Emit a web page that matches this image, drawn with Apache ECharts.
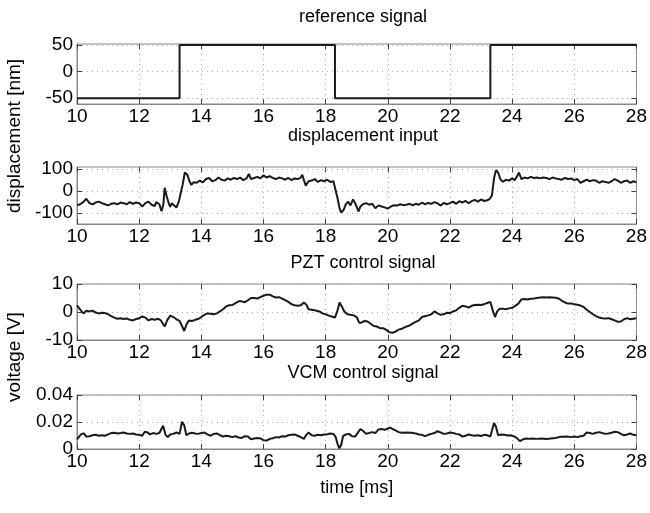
<!DOCTYPE html>
<html>
<head>
<meta charset="utf-8">
<script src="https://cdn.jsdelivr.net/npm/echarts@6/dist/echarts.min.js"></script>
<style>html,body{margin:0;padding:0;background:#fff}#chart{width:650px;height:513px}</style>
</head>
<body>
<div id="chart"></div>
<script>
// panel titles and axis ticks
var panelTitles = ['reference signal', 'displacement input', 'PZT control signal', 'VCM control signal'];
var yTickValues = [[-50, 0, 50], [-100, 0, 100], [-10, 0, 10], [0, 0.02, 0.04]];
var yRanges = [[-61, 52], [-150, 110], [-10, 10], [0, 0.04]];

// reference signal [ms, nm]
var refSignal = [[10, -50], [13.3, -50], [13.3, 50], [18.3, 50], [18.3, -50], [23.3, -50], [23.3, 50], [28, 50]];

// displacement input [ms, nm]
var dispInput = [[10.0,-65],[10.1,-60],[10.2,-50],[10.3,-35],[10.4,-55],[10.5,-60],[10.6,-52],[10.7,-48],[10.8,-55],[10.9,-60],[11.0,-65],[11.1,-58],[11.2,-55],[11.3,-60],[11.4,-52],[11.5,-55],[11.6,-60],[11.7,-50],[11.8,-58],[11.9,-52],[12.0,-55],[12.1,-70],[12.2,-55],[12.3,-48],[12.4,-62],[12.5,-68],[12.55,-50],[12.65,-60],[12.72,-92],[12.78,-60],[12.82,15],[12.88,-20],[12.95,-55],[13.0,-72],[13.05,-55],[13.12,-65],[13.2,-75],[13.28,-45],[13.33,-40],[13.4,30],[13.47,85],[13.55,75],[13.62,45],[13.68,28],[13.75,40],[13.85,38],[13.95,48],[14.05,40],[14.15,55],[14.25,60],[14.35,45],[14.45,50],[14.55,62],[14.65,52],[14.75,48],[14.85,58],[14.95,52],[15.05,60],[15.15,55],[15.25,62],[15.35,50],[15.45,58],[15.53,78],[15.6,55],[15.7,60],[15.8,65],[15.9,58],[16.0,72],[16.1,62],[16.2,68],[16.3,60],[16.4,55],[16.5,62],[16.6,58],[16.7,52],[16.8,60],[16.9,50],[17.0,58],[17.1,55],[17.2,62],[17.25,75],[17.3,50],[17.36,25],[17.45,45],[17.55,48],[17.65,55],[17.75,42],[17.85,50],[17.95,45],[18.05,52],[18.15,42],[18.25,45],[18.3,40],[18.38,-30],[18.45,-80],[18.5,-98],[18.58,-85],[18.65,-60],[18.72,-48],[18.8,-65],[18.88,-38],[18.95,-55],[19.0,-60],[19.06,-93],[19.12,-70],[19.2,-60],[19.3,-55],[19.4,-62],[19.5,-58],[19.6,-78],[19.7,-65],[19.8,-70],[19.9,-74],[20.0,-80],[20.1,-70],[20.2,-64],[20.3,-66],[20.4,-60],[20.5,-64],[20.6,-62],[20.7,-58],[20.8,-65],[20.9,-58],[21.0,-62],[21.1,-52],[21.2,-60],[21.3,-54],[21.4,-58],[21.5,-50],[21.6,-56],[21.7,-66],[21.8,-54],[21.9,-60],[22.0,-55],[22.1,-48],[22.2,-58],[22.3,-46],[22.4,-52],[22.5,-44],[22.6,-55],[22.7,-46],[22.8,-40],[22.9,-48],[23.0,-38],[23.1,-45],[23.2,-42],[23.28,-35],[23.35,-20],[23.42,60],[23.48,95],[23.55,85],[23.62,55],[23.7,42],[23.8,52],[23.9,48],[24.0,58],[24.08,50],[24.15,65],[24.22,85],[24.3,55],[24.4,62],[24.5,58],[24.6,65],[24.7,60],[24.8,62],[24.9,58],[25.0,62],[25.1,60],[25.2,55],[25.3,62],[25.4,58],[25.5,55],[25.6,52],[25.7,60],[25.8,55],[25.9,58],[26.0,50],[26.1,55],[26.2,38],[26.3,45],[26.4,52],[26.5,45],[26.6,50],[26.7,48],[26.8,38],[26.9,45],[27.0,42],[27.1,38],[27.2,45],[27.3,55],[27.4,48],[27.5,38],[27.6,45],[27.7,48],[27.8,38],[27.9,45],[28.0,40]];

// PZT control signal [ms, V]
var pztSignal = [[10.0,2.4],[10.08,1.2],[10.15,0.2],[10.22,-0.5],[10.3,0.5],[10.4,0.2],[10.5,0.5],[10.6,-0.2],[10.7,-0.5],[10.8,-0.3],[10.9,-0.4],[11.0,-0.8],[11.1,-1.5],[11.2,-2.0],[11.3,-2.4],[11.4,-2.2],[11.5,-2.5],[11.6,-2.3],[11.7,-2.8],[11.8,-3.0],[11.9,-2.5],[12.0,-2.2],[12.1,-1.6],[12.2,-2.0],[12.3,-3.0],[12.4,-2.5],[12.5,-2.8],[12.6,-2.4],[12.7,-3.0],[12.82,-5.2],[12.9,-3.0],[13.0,-1.3],[13.1,-1.8],[13.2,-2.6],[13.3,-3.2],[13.38,-5.0],[13.45,-6.8],[13.52,-4.5],[13.6,-3.0],[13.7,-3.2],[13.8,-2.8],[13.9,-2.5],[14.0,-1.8],[14.1,-1.0],[14.2,-0.5],[14.3,-0.6],[14.4,-0.8],[14.5,-0.5],[14.6,0.2],[14.7,1.0],[14.8,2.0],[14.9,2.4],[15.0,2.5],[15.1,3.2],[15.2,3.8],[15.3,3.8],[15.4,3.5],[15.5,4.2],[15.6,5.0],[15.7,5.0],[15.8,4.8],[15.9,5.3],[16.0,5.8],[16.1,6.2],[16.2,6.2],[16.3,5.6],[16.4,5.2],[16.5,5.3],[16.6,4.8],[16.7,4.2],[16.8,3.6],[16.9,2.8],[17.0,2.4],[17.1,2.2],[17.2,2.4],[17.3,3.4],[17.38,2.6],[17.45,1.0],[17.55,0.8],[17.65,0.6],[17.8,0.2],[17.9,-0.5],[18.0,-0.8],[18.1,-1.3],[18.2,-1.6],[18.3,-2.0],[18.38,0.5],[18.45,3.4],[18.52,2.0],[18.6,0.2],[18.7,-0.8],[18.8,-1.0],[18.9,-1.2],[19.0,-1.8],[19.08,-3.8],[19.15,-3.8],[19.25,-3.2],[19.35,-3.4],[19.45,-4.2],[19.55,-5.0],[19.65,-5.2],[19.75,-5.8],[19.85,-5.8],[19.95,-6.4],[20.05,-7.2],[20.15,-7.4],[20.25,-7.0],[20.35,-6.3],[20.45,-6.0],[20.55,-5.4],[20.7,-4.8],[20.85,-3.8],[21.0,-3.0],[21.1,-1.8],[21.2,-1.5],[21.3,-1.2],[21.4,-0.8],[21.5,0.2],[21.6,-0.5],[21.7,-1.0],[21.8,-0.8],[21.9,-0.3],[22.0,-0.4],[22.1,0.2],[22.2,0.6],[22.3,1.5],[22.4,2.2],[22.5,2.0],[22.6,1.6],[22.7,2.2],[22.8,2.5],[22.9,2.6],[23.0,2.5],[23.1,2.8],[23.2,3.2],[23.3,3.6],[23.38,0.5],[23.45,-1.8],[23.52,0.2],[23.6,1.2],[23.7,1.2],[23.8,1.0],[23.9,1.3],[24.0,1.5],[24.1,2.2],[24.2,3.0],[24.3,4.5],[24.4,4.6],[24.5,4.5],[24.6,4.7],[24.7,4.8],[24.8,5.0],[24.9,5.2],[25.0,5.3],[25.1,5.2],[25.2,5.3],[25.3,5.2],[25.4,5.1],[25.5,4.8],[25.6,4.0],[25.7,3.4],[25.8,3.0],[25.9,3.0],[26.0,2.8],[26.1,2.6],[26.2,2.3],[26.3,1.8],[26.4,0.8],[26.5,0.0],[26.6,-0.8],[26.7,-1.5],[26.8,-2.0],[26.9,-2.2],[27.0,-2.3],[27.1,-2.2],[27.2,-2.6],[27.3,-3.0],[27.4,-3.5],[27.5,-3.4],[27.6,-2.6],[27.7,-2.2],[27.8,-2.6],[27.9,-2.4],[28.0,-2.2]];

// VCM control signal [ms, V]
var vcmSignal = [[10.0,0.0072],[10.08,0.0095],[10.15,0.0112],[10.22,0.0115],[10.3,0.0092],[10.4,0.0095],[10.5,0.0102],[10.6,0.0105],[10.7,0.0098],[10.8,0.0102],[10.9,0.0098],[11.0,0.0108],[11.1,0.0118],[11.2,0.012],[11.3,0.0115],[11.4,0.0118],[11.5,0.0122],[11.6,0.0115],[11.7,0.0112],[11.8,0.0115],[11.9,0.0108],[12.0,0.0105],[12.1,0.0098],[12.18,0.0128],[12.25,0.0125],[12.35,0.0108],[12.45,0.0118],[12.55,0.0112],[12.65,0.0118],[12.77,0.0172],[12.85,0.0105],[12.92,0.0088],[13.0,0.0108],[13.1,0.0112],[13.2,0.0122],[13.3,0.0112],[13.38,0.0202],[13.45,0.0175],[13.52,0.0102],[13.6,0.0115],[13.7,0.012],[13.8,0.0115],[13.9,0.0112],[14.0,0.0118],[14.1,0.0122],[14.2,0.0108],[14.3,0.0098],[14.4,0.0112],[14.5,0.0115],[14.6,0.0102],[14.7,0.0092],[14.8,0.0098],[14.9,0.0095],[15.0,0.0088],[15.1,0.0095],[15.2,0.0085],[15.3,0.0082],[15.4,0.0095],[15.5,0.0092],[15.6,0.0072],[15.7,0.0078],[15.8,0.0082],[15.9,0.0078],[16.0,0.0065],[16.1,0.0062],[16.2,0.0075],[16.3,0.008],[16.4,0.0088],[16.5,0.0085],[16.6,0.0095],[16.7,0.0092],[16.8,0.0102],[16.9,0.0105],[17.0,0.0108],[17.1,0.0098],[17.2,0.0088],[17.3,0.0075],[17.38,0.0105],[17.45,0.0122],[17.55,0.0102],[17.65,0.0098],[17.75,0.0105],[17.85,0.0102],[17.95,0.0108],[18.05,0.011],[18.15,0.0115],[18.25,0.0112],[18.32,0.009],[18.38,0.004],[18.44,0.0005],[18.5,0.003],[18.56,0.0095],[18.65,0.0108],[18.75,0.0112],[18.85,0.0095],[18.95,0.0092],[19.05,0.0125],[19.12,0.0148],[19.2,0.0135],[19.3,0.0112],[19.4,0.0118],[19.5,0.0125],[19.6,0.0118],[19.7,0.0145],[19.8,0.0148],[19.9,0.0142],[20.0,0.0152],[20.08,0.0158],[20.15,0.0148],[20.25,0.0138],[20.35,0.0125],[20.45,0.012],[20.6,0.0122],[20.75,0.012],[20.9,0.0115],[21.0,0.0108],[21.1,0.0105],[21.2,0.0095],[21.3,0.0105],[21.4,0.0112],[21.5,0.0118],[21.6,0.0132],[21.7,0.0122],[21.8,0.0112],[21.9,0.0115],[22.0,0.0122],[22.1,0.0118],[22.2,0.0112],[22.3,0.0108],[22.4,0.0092],[22.5,0.0098],[22.6,0.0108],[22.7,0.0102],[22.8,0.0098],[22.9,0.0102],[23.0,0.0096],[23.1,0.0105],[23.2,0.0102],[23.3,0.0092],[23.36,0.0145],[23.42,0.0192],[23.48,0.0165],[23.55,0.0102],[23.65,0.0108],[23.75,0.0105],[23.85,0.01],[23.95,0.0102],[24.05,0.0095],[24.15,0.0082],[24.25,0.0058],[24.35,0.0072],[24.45,0.0078],[24.55,0.0075],[24.65,0.0078],[24.8,0.0075],[24.95,0.0078],[25.1,0.0074],[25.25,0.0078],[25.4,0.0082],[25.5,0.0088],[25.6,0.009],[25.75,0.0092],[25.9,0.0088],[26.0,0.0092],[26.1,0.0088],[26.2,0.0095],[26.3,0.0098],[26.4,0.0122],[26.5,0.0118],[26.6,0.0112],[26.7,0.012],[26.8,0.0125],[26.9,0.0118],[27.0,0.0112],[27.1,0.0115],[27.2,0.012],[27.3,0.0128],[27.4,0.0125],[27.5,0.0112],[27.6,0.0102],[27.7,0.0108],[27.8,0.0115],[27.9,0.0105],[28.0,0.0102]];

var chart = echarts.init(document.getElementById('chart'));
var FONT = 'Liberation Sans';
var gridTops = [44, 167, 284, 395];
var gridHeights = [60, 57, 56, 54];
var titleTops = [3, 122, 249, 359];
var seriesData = [refSignal, dispInput, pztSignal, vcmSignal];

var grids = [], xAxes = [], yAxes = [], series = [], titles = [];
for (var i = 0; i < 4; i++) {
    grids.push({ left: 77, right: 10, top: gridTops[i], height: gridHeights[i],
        show: true, borderColor: '#888', borderWidth: 1 });
    titles.push({ text: panelTitles[i], left: 358, top: titleTops[i], textAlign: 'center',
        textStyle: { fontFamily: FONT, fontSize: 18, fontWeight: 'normal', color: '#000' } });
    // bottom axis with labels
    xAxes.push({
        type: 'value', gridIndex: i, min: 10, max: 28, interval: 2,
        axisLine: { show: true, onZero: false, lineStyle: { color: '#888' } },
        axisTick: { inside: true, length: 5, lineStyle: { color: '#444' } },
        axisLabel: { fontFamily: FONT, fontSize: 19, color: '#000', margin: 3 },
        splitLine: { show: true, lineStyle: { type: [1, 4], color: '#aaa' } },
        name: i === 3 ? 'time [ms]' : '', nameLocation: 'middle', nameGap: 30,
        nameTextStyle: { fontFamily: FONT, fontSize: 18, color: '#000' }
    });
    // top axis for ticks only
    xAxes.push({
        type: 'value', gridIndex: i, min: 10, max: 28, interval: 2, position: 'top',
        axisLine: { show: false, onZero: false }, axisLabel: { show: false }, splitLine: { show: false },
        axisTick: { inside: true, length: 5, lineStyle: { color: '#444' } }
    });
    yAxes.push({
        type: 'value', gridIndex: i, min: yRanges[i][0], max: yRanges[i][1],
        axisLine: { show: true, onZero: false, lineStyle: { color: '#888' } },
        axisTick: { inside: true, length: 5, customValues: yTickValues[i], lineStyle: { color: '#444' } },
        axisLabel: { fontFamily: FONT, fontSize: 19, color: '#000', margin: 4, customValues: yTickValues[i] },
        splitLine: { show: true, lineStyle: { type: [1, 4], color: '#aaa' } }
    });
    yAxes.push({
        type: 'value', gridIndex: i, min: yRanges[i][0], max: yRanges[i][1], position: 'right',
        axisLine: { show: false, onZero: false }, axisLabel: { show: false }, splitLine: { show: false },
        axisTick: { inside: true, length: 5, customValues: yTickValues[i], lineStyle: { color: '#444' } }
    });
    series.push({
        type: 'line', xAxisIndex: i * 2, yAxisIndex: i * 2, data: seriesData[i],
        showSymbol: false, symbol: 'none', animation: false,
        lineStyle: { color: '#1a1a1a', width: 2 }
    });
}

// y names span two panels each
var yNames = [['displacement [nm]', 136], ['voltage [V]', 357]];
var graphics = yNames.map(function (n) {
    return { type: 'text', x: 15, y: n[1], rotation: Math.PI / 2,
        style: { text: n[0], fontFamily: FONT, fontSize: 19, fill: '#000', textAlign: 'center', textVerticalAlign: 'middle' } };
});

var option = {
    backgroundColor: '#fff',
    animation: false,
    title: titles,
    grid: grids,
    xAxis: xAxes,
    yAxis: yAxes,
    series: series,
    graphic: graphics
};
chart.setOption(option);
</script>
</body>
</html>
